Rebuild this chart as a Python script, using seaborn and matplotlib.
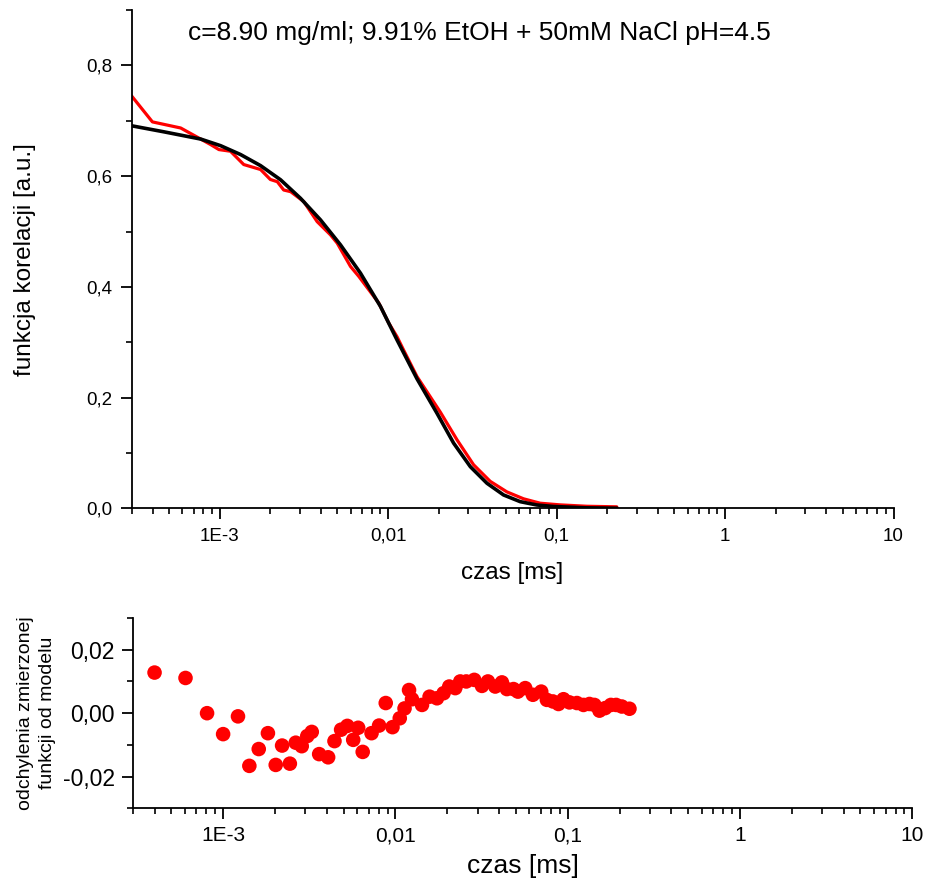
import numpy as np
import pandas as pd
import matplotlib
matplotlib.use("Agg")
import matplotlib.pyplot as plt
import seaborn as sns
from matplotlib.ticker import LogLocator, MultipleLocator, FuncFormatter, NullFormatter

sns.set_theme(style="ticks")
plt.rcParams['font.family'] = ['Liberation Sans', 'DejaVu Sans']
plt.rcParams['text.color'] = 'black'
plt.rcParams['axes.labelcolor'] = 'black'
plt.rcParams['xtick.color'] = 'black'
plt.rcParams['ytick.color'] = 'black'

# model (fit) curve
fit_t = [3.0e-4, 4.68e-4, 7.72e-4, 1.014e-3, 1.332e-3, 1.75e-3, 2.299e-3, 3.021e-3,
         3.97e-3, 5.215e-3, 6.85e-3, 9.0e-3, 0.01131, 0.01485, 0.0195, 0.02448,
         0.03076, 0.03863, 0.04845, 0.06083, 0.07636, 0.09589, 0.148, 0.2285]
fit_g = [0.691, 0.680, 0.667, 0.655, 0.639, 0.619, 0.5935, 0.560,
         0.521, 0.476, 0.425, 0.365, 0.304, 0.234, 0.172, 0.118,
         0.0755, 0.0455, 0.0244, 0.0123, 0.0063, 0.0036, 0.0012, 0.0005]

# measured correlation function
meas_t = [3.0e-4, 3.99e-4, 5.87e-4, 8.85e-4, 9.9e-4, 1.16e-3, 1.39e-3, 1.75e-3,
          2.0e-3, 2.2e-3, 2.4e-3, 2.64e-3, 3.16e-3, 3.79e-3, 4.55e-3, 4.99e-3,
          5.98e-3, 6.70e-3, 8.22e-3, 8.80e-3, 0.01008, 0.0113, 0.01236, 0.01485,
          0.01553, 0.02041, 0.02564, 0.03214, 0.04036, 0.05066, 0.06363, 0.07993,
          0.105, 0.1513, 0.2275]
meas_g = [0.745, 0.698, 0.687, 0.657, 0.648, 0.645, 0.621, 0.612,
          0.594, 0.590, 0.575, 0.572, 0.554, 0.518, 0.494, 0.479,
          0.437, 0.419, 0.383, 0.371, 0.335, 0.310, 0.286, 0.238,
          0.229, 0.174, 0.124, 0.079, 0.049, 0.030, 0.0175, 0.0095,
          0.0065, 0.004, 0.003]

# residuals (measured - model)
resid_t = [4.0e-4, 6.05e-4, 8.07e-4, 1.0e-3, 1.22e-3, 1.42e-3, 1.61e-3, 1.82e-3,
           2.02e-3, 2.2e-3, 2.44e-3, 2.64e-3, 2.86e-3, 3.08e-3, 3.27e-3, 3.61e-3,
           4.07e-3, 4.43e-3, 4.84e-3, 5.26e-3, 5.69e-3, 6.08e-3, 6.46e-3, 7.27e-3,
           8.04e-3, 8.79e-3, 9.62e-3, 0.0106, 0.0113, 0.0120, 0.01248, 0.01427,
           0.01579, 0.01743, 0.01904, 0.02054, 0.02225, 0.02379, 0.02578, 0.02869,
           0.03179, 0.03444, 0.03798, 0.04153, 0.04438, 0.04848, 0.05141, 0.05669,
           0.06281, 0.0702, 0.07571, 0.08206, 0.08843, 0.09454, 0.1024, 0.1131,
           0.1235, 0.1338, 0.1430, 0.1529, 0.1650, 0.1781, 0.1911, 0.2062, 0.2283]
resid_v = [0.0128, 0.0111, 0.0000, -0.0066, -0.0010, -0.0166, -0.0113, -0.0063,
           -0.0163, -0.0102, -0.0159, -0.0093, -0.0104, -0.0072, -0.0059, -0.0129,
           -0.0139, -0.0088, -0.0052, -0.0040, -0.0084, -0.0046, -0.0122, -0.0063,
           -0.0039, 0.0032, -0.0044, -0.0016, 0.0015, 0.0073, 0.0044, 0.0026,
           0.0052, 0.0047, 0.0063, 0.0084, 0.0079, 0.0100, 0.0100, 0.0105,
           0.0086, 0.0100, 0.0084, 0.0097, 0.0076, 0.0076, 0.0068, 0.0079,
           0.0058, 0.0068, 0.0042, 0.0037, 0.0029, 0.0044, 0.0034, 0.0032,
           0.0026, 0.0029, 0.0026, 0.0008, 0.0016, 0.0026, 0.0026, 0.0021, 0.0014]

xtick_vals = [1e-3, 1e-2, 1e-1, 1, 10]
xtick_labels = ["1E-3", "0,01", "0,1", "1", "10"]
title_text = "c=8.90 mg/ml; 9.91% EtOH + 50mM NaCl pH=4.5"

fit_df = pd.DataFrame({"t": fit_t, "g": fit_g})
meas_df = pd.DataFrame({"t": meas_t, "g": meas_g})
res_df = pd.DataFrame({"t": resid_t, "r": resid_v})

fig = plt.figure(figsize=(9.27, 8.86), dpi=100)
ax1 = fig.add_axes([0.1419, 0.4261, 0.8220, 0.5626])
ax2 = fig.add_axes([0.1435, 0.0876, 0.8406, 0.2149])

sns.lineplot(data=meas_df, x="t", y="g", ax=ax1, color="#ff0000", linewidth=2.3,
             estimator=None, sort=False, zorder=2)
sns.lineplot(data=fit_df, x="t", y="g", ax=ax1, color="black", linewidth=2.6,
             estimator=None, sort=False, zorder=3)
sns.scatterplot(data=res_df, x="t", y="r", ax=ax2, color="#ff0000", s=110,
                edgecolor="none", linewidth=0, zorder=3)

comma = FuncFormatter(lambda v, p: ("%.1f" % v).replace(".", ","))
comma2 = FuncFormatter(lambda v, p: ("%.2f" % (0 if abs(v) < 1e-9 else v)).replace(".", ","))

for ax in (ax1, ax2):
    ax.set_xscale("log")
    ax.set_xlim(3e-4, 10)
    ax.set_xticks(xtick_vals)
    ax.set_xticklabels(xtick_labels)
    ax.xaxis.set_minor_locator(LogLocator(base=10, subs=np.arange(2, 10), numticks=20))
    ax.xaxis.set_minor_formatter(NullFormatter())
    for s in ("top", "right"):
        ax.spines[s].set_visible(False)
    for s in ("left", "bottom"):
        ax.spines[s].set_linewidth(1.3)
        ax.spines[s].set_color("black")
    ax.tick_params(which="major", direction="out", length=8, width=1.3, colors="black")
    ax.tick_params(which="minor", direction="out", length=4.5, width=1.2, colors="black")
    ax.grid(False)

ax1.set_ylim(0, 0.9)
ax1.yaxis.set_major_locator(MultipleLocator(0.2))
ax1.yaxis.set_minor_locator(MultipleLocator(0.1))
ax1.yaxis.set_major_formatter(comma)
ax1.tick_params(axis="both", which="major", labelsize=13.5, pad=6)
ax1.set_xlabel("czas [ms]", fontsize=17.5, labelpad=12)
ax1.set_ylabel("funkcja korelacji [a.u.]", fontsize=17.5, labelpad=36)
ax1.text(0.457, 0.954, title_text, transform=ax1.transAxes, ha="center", va="center",
         fontsize=19)

ax2.set_ylim(-0.03, 0.03)
ax2.yaxis.set_major_locator(MultipleLocator(0.02))
ax2.yaxis.set_minor_locator(MultipleLocator(0.01))
ax2.yaxis.set_major_formatter(comma2)
ax2.tick_params(axis="y", which="major", labelsize=16.5, pad=5)
ax2.tick_params(axis="x", which="major", labelsize=15, pad=5)
ax2.set_xlabel("czas [ms]", fontsize=19, labelpad=6)
ax2.set_ylabel("odchylenia zmierzonej\nfunkcji od modelu", fontsize=14, labelpad=5,
               linespacing=1.4)

fig.savefig("out.png", dpi=100)
